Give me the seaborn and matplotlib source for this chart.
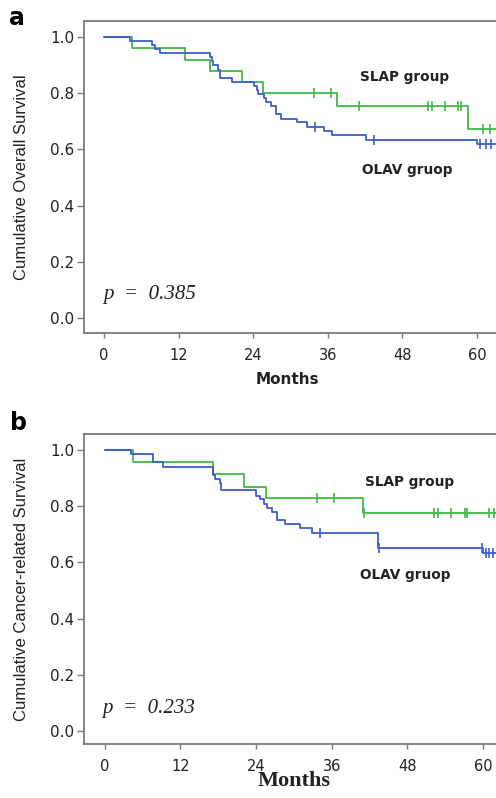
import numpy as np
import pandas as pd
import matplotlib
matplotlib.use("Agg")
import matplotlib.pyplot as plt
import seaborn as sns

# ---------------- data ----------------
# Panel a: overall survival
A_SLAP_T = [0, 4.5, 13.0, 17.1, 22.2, 25.6, 37.4, 58.6, 64.0]
A_SLAP_S = [1.0, 0.960, 0.920, 0.880, 0.840, 0.800, 0.756, 0.673, 0.673]
A_SLAP_CENS = [33.7, 36.5, 41.0, 52.1, 52.7, 54.8, 57.0, 57.4, 60.9, 62.0]

A_OLAV_T = [0, 4.2, 7.8, 8.2, 9.0, 17.0, 17.4, 17.6, 18.4, 18.6, 20.6, 24.1, 24.6,
            24.8, 25.7, 26.0, 26.8, 27.6, 28.5, 31.1, 32.7, 35.4, 36.7, 42.1, 60.0, 64.0]
A_OLAV_S = [1.0, 0.986, 0.971, 0.957, 0.943, 0.928, 0.913, 0.899, 0.884, 0.855, 0.840,
            0.826, 0.812, 0.797, 0.783, 0.768, 0.754, 0.725, 0.710, 0.696, 0.681, 0.667,
            0.650, 0.632, 0.619, 0.619]
A_OLAV_CENS = [34.0, 43.4, 60.4, 61.5, 62.3]

# Panel b: cancer-related survival
B_SLAP_T = [0, 4.4, 17.1, 22.0, 25.6, 41.0, 64.0]
B_SLAP_S = [1.0, 0.958, 0.913, 0.869, 0.828, 0.777, 0.777]
B_SLAP_CENS = [33.7, 36.4, 41.1, 52.2, 52.8, 54.9, 57.1, 57.5, 61.0, 61.8]

B_OLAV_T = [0, 4.1, 7.7, 9.2, 17.1, 17.5, 18.2, 18.4, 23.9, 24.6, 25.2, 25.8, 26.5,
            27.3, 28.5, 31.0, 32.9, 43.4, 60.0, 64.0]
B_OLAV_S = [1.0, 0.985, 0.956, 0.941, 0.911, 0.897, 0.882, 0.856, 0.838, 0.824, 0.809,
            0.794, 0.779, 0.750, 0.735, 0.721, 0.703, 0.650, 0.632, 0.632]
B_OLAV_CENS = [34.1, 43.5, 59.9, 60.4, 60.9, 61.6]

X_TICKS = [0, 12, 24, 36, 48, 60]
Y_TICKS = [0.0, 0.2, 0.4, 0.6, 0.8, 1.0]
GROUPS = ["SLAP group", "OLAV gruop"]
P_VALUES = ["0.385", "0.233"]
Y_LABELS = ["Cumulative Overall Survival", "Cumulative Cancer-related Survival"]
PANEL_LETTERS = ["a", "b"]

GREEN = "#3fba48"
BLUE = "#3c5ecb"
SPINE = "#7a7a7a"


def step_value(t, times, surv):
    idx = np.searchsorted(np.asarray(times), t, side="right") - 1
    return surv[max(idx, 0)]


def curve_frame(times, surv, name):
    return pd.DataFrame({"t": times, "s": surv, "grp": name})


def cens_frame(cens, times, surv, name):
    return pd.DataFrame({"t": cens, "s": [step_value(c, times, surv) for c in cens], "grp": name})


sns.set_style("white")
fig = plt.figure(figsize=(4.96, 7.98), dpi=100)

panels = [
    dict(rect=[84 / 496, (798 - 333) / 798, (497 - 84) / 496, (333 - 21) / 798],
         xlim=(-3.2, 63.2), ylim=(-0.053, 1.057),
         slap=(A_SLAP_T, A_SLAP_S, A_SLAP_CENS), olav=(A_OLAV_T, A_OLAV_S, A_OLAV_CENS),
         slap_xy=(405, 77), olav_xy=(407, 170), p_xy=(103, 294), letter_xy=(17, 18),
         months_xy=(287, 380), months_font=dict(family="DejaVu Sans", weight="bold", size=11)),
    dict(rect=[84 / 496, (798 - 744) / 798, (497 - 84) / 496, (744 - 434) / 798],
         xlim=(-3.3, 62.2), ylim=(-0.046, 1.057),
         slap=(B_SLAP_T, B_SLAP_S, B_SLAP_CENS), olav=(B_OLAV_T, B_OLAV_S, B_OLAV_CENS),
         slap_xy=(410, 482), olav_xy=(405, 575), p_xy=(102, 708), letter_xy=(18, 423),
         months_xy=(294, 781), months_font=dict(family="Liberation Serif", weight="bold", size=16)),
]


def fx(px):
    return px / 496


def fy(py):
    return 1 - py / 798


for i, pnl in enumerate(panels):
    ax = fig.add_axes(pnl["rect"])
    ax.set_facecolor("white")
    for grp, (t, s, c), col in zip(GROUPS, [pnl["slap"], pnl["olav"]], [GREEN, BLUE]):
        sns.lineplot(data=curve_frame(t, s, grp), x="t", y="s", ax=ax, color=col,
                     drawstyle="steps-post", estimator=None, sort=False, lw=1.3,
                     legend=False)
        sns.scatterplot(data=cens_frame(c, t, s, grp), x="t", y="s", ax=ax, color=col,
                        marker="|", s=55, linewidth=1.2, legend=False, zorder=3)
    ax.set_xlim(*pnl["xlim"])
    ax.set_ylim(*pnl["ylim"])
    ax.set_xticks(X_TICKS)
    ax.set_xticklabels([str(v) for v in X_TICKS])
    ax.set_yticks(Y_TICKS)
    ax.set_yticklabels([f"{v:.1f}" for v in Y_TICKS])
    ax.set_xlabel("")
    ax.set_ylabel(Y_LABELS[i], fontsize=12, family="Liberation Sans", color="#222222",
                  labelpad=15)
    ax.tick_params(axis="y", direction="out", length=5, width=1, color=SPINE, pad=2,
                   labelsize=11, labelcolor="#222222", left=True)
    ax.tick_params(axis="x", direction="out", length=3.5, width=1, color=SPINE, pad=7,
                   labelsize=10.5, labelcolor="#222222", bottom=True)
    for side in ["left", "bottom", "top"]:
        ax.spines[side].set_color(SPINE)
        ax.spines[side].set_linewidth(1.3)
    ax.spines["right"].set_visible(False)
    ax.grid(False)

    fig.text(fx(pnl["slap_xy"][0]), fy(pnl["slap_xy"][1]), GROUPS[0], ha="center",
             va="center", fontsize=9.8, weight="bold", color="#222222")
    fig.text(fx(pnl["olav_xy"][0]), fy(pnl["olav_xy"][1]), GROUPS[1], ha="center",
             va="center", fontsize=9.8, weight="bold", color="#222222")
    fig.text(fx(pnl["p_xy"][0]), fy(pnl["p_xy"][1]), f"p  =  {P_VALUES[i]}", ha="left",
             va="center", fontsize=15, style="italic", family="Liberation Serif",
             color="#222222")
    fig.text(fx(pnl["letter_xy"][0]), fy(pnl["letter_xy"][1]), PANEL_LETTERS[i],
             ha="center", va="center", fontsize=17, weight="bold", color="black")
    fig.text(fx(pnl["months_xy"][0]), fy(pnl["months_xy"][1]), "Months", ha="center",
             va="center", color="#222222", **pnl["months_font"])

fig.savefig("out.png", dpi=100, facecolor="white")
